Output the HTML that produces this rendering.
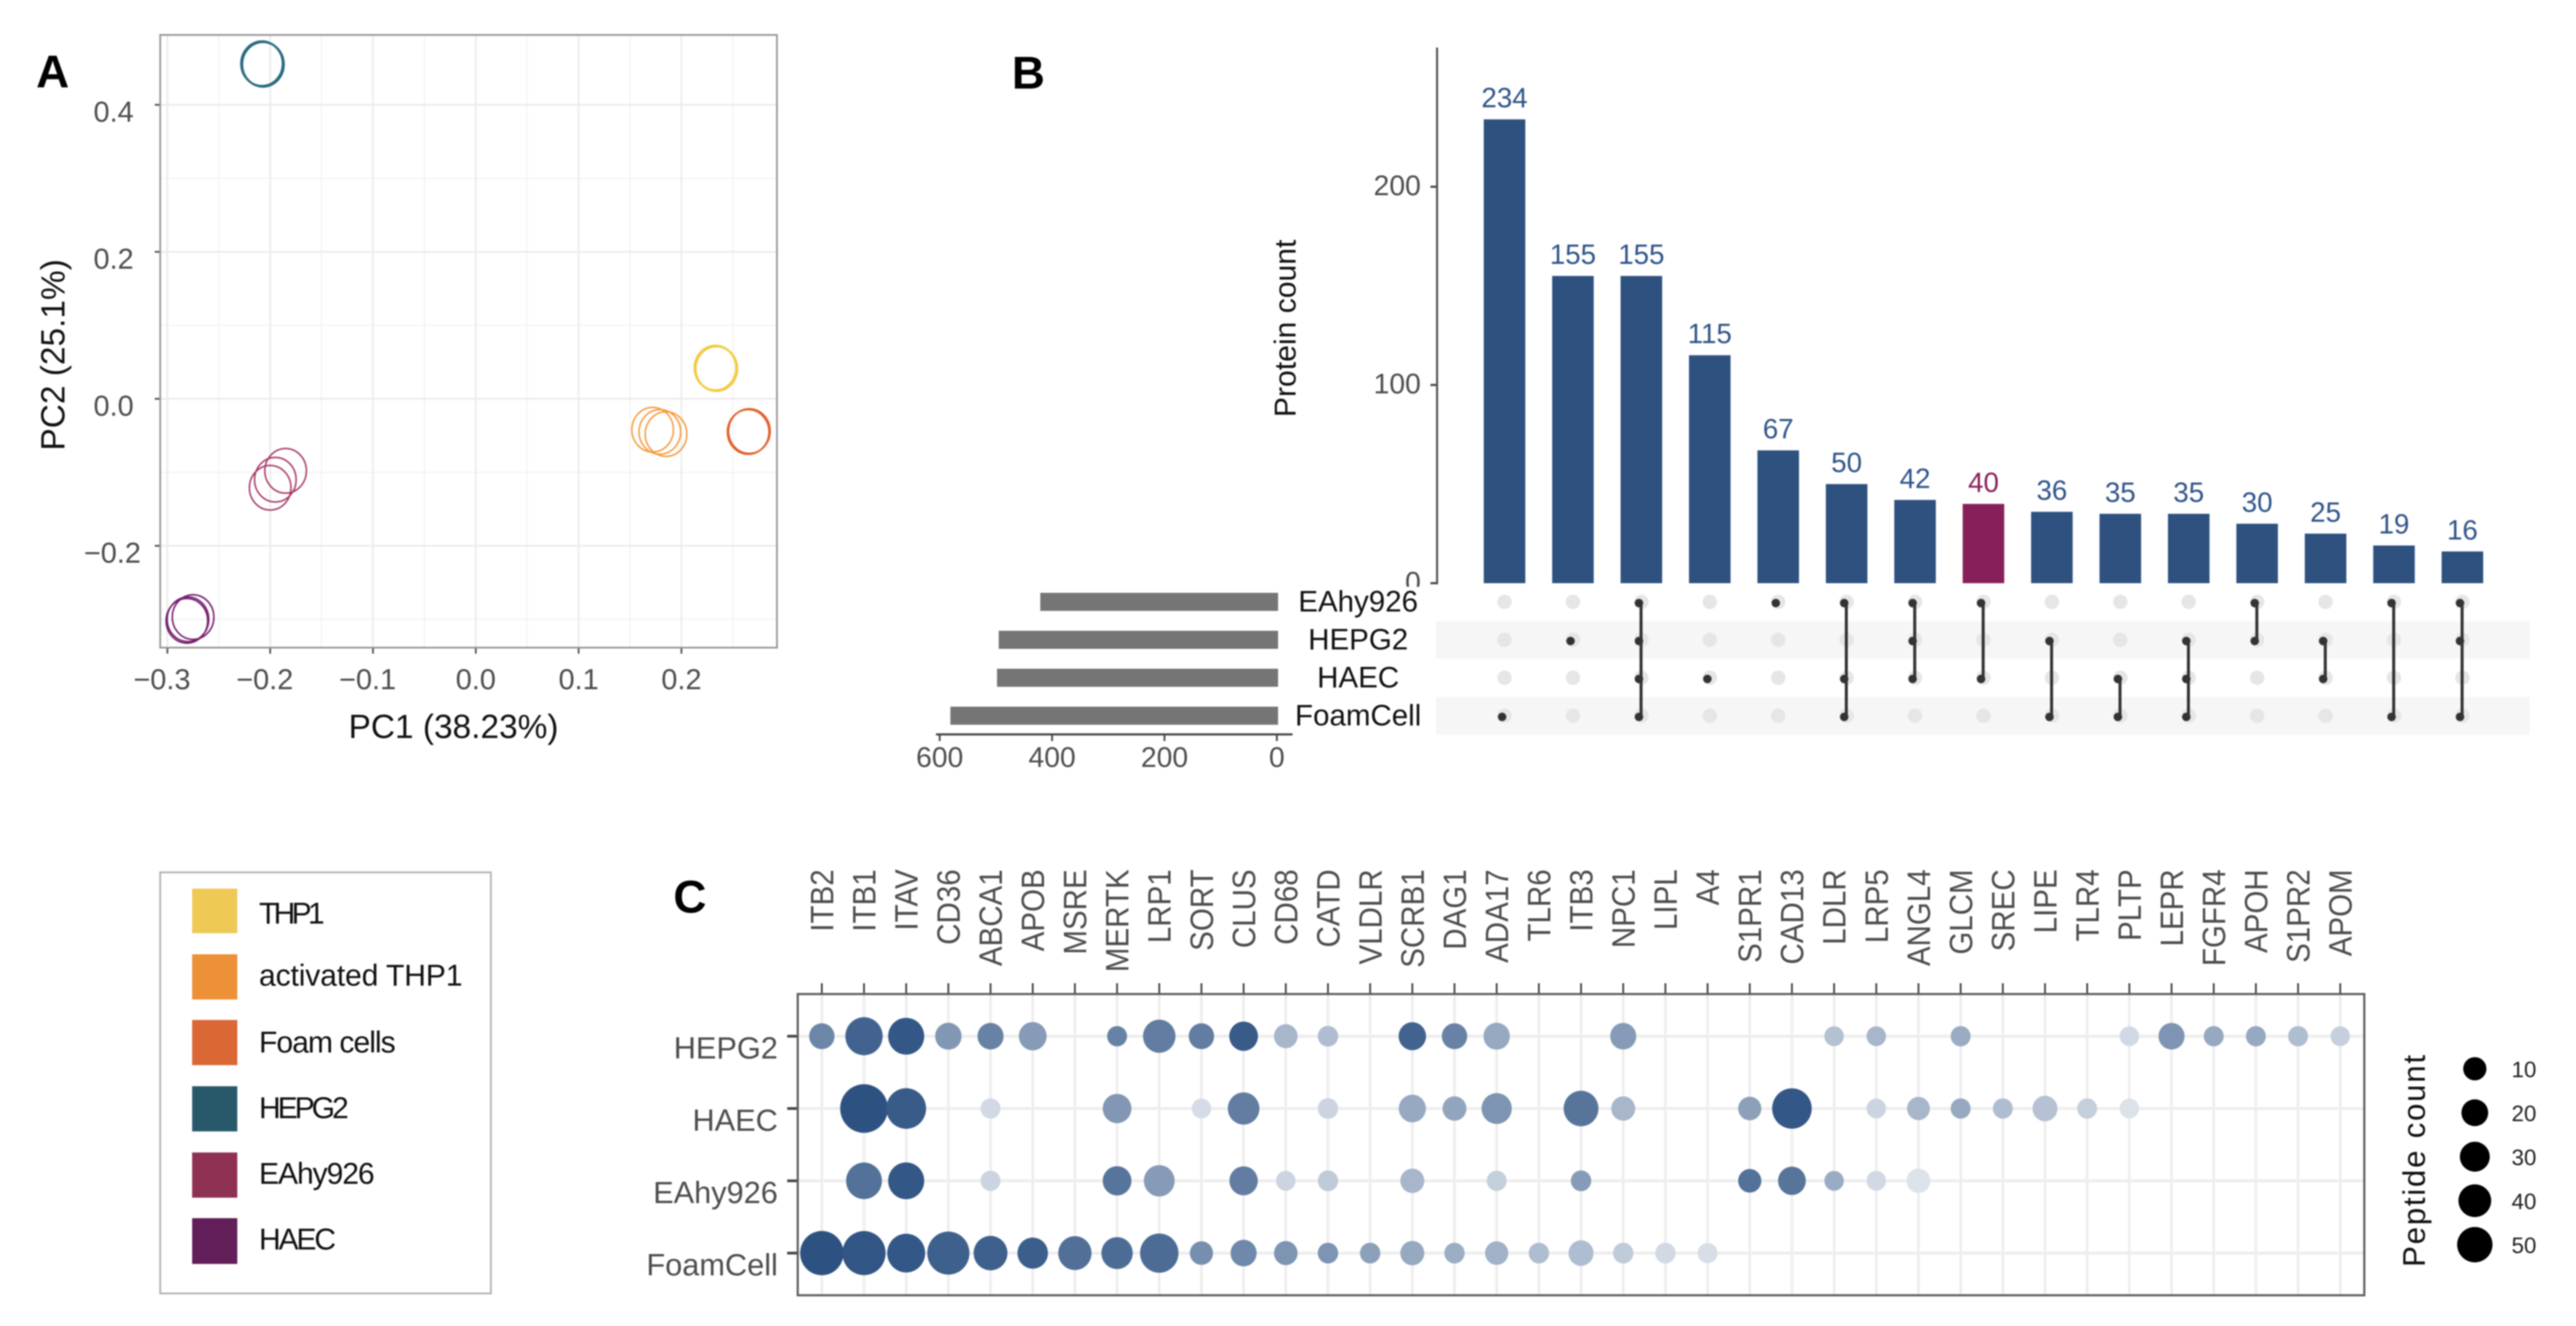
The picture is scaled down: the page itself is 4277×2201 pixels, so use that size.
<!DOCTYPE html>
<html lang="en">
<head>
<meta charset="utf-8">
<title>Panels A, B and C</title>
<style>
html,body{margin:0;padding:0;background:#fff;}
svg{display:block;font-family:"Liberation Sans",Arial,sans-serif;filter:blur(1px);}
</style>
</head>
<body>
<svg id="fig" xmlns="http://www.w3.org/2000/svg" width="4277" height="2201" viewBox="0 0 4277 2201">
  <rect x="0" y="0" width="4277" height="2201" fill="#fff"/>
  <g id="panelA"></g>
  <g id="panelB"></g>
  <g id="panelC"></g>

  <text x="60" y="145" font-size="76" font-weight="700" fill="#000">A</text>
  <text x="1680" y="147" font-size="76" font-weight="700" fill="#000">B</text>
  <text x="1118" y="1515" font-size="76" font-weight="700" fill="#000">C</text>

  <text x="753" y="1225" font-size="55.5" text-anchor="middle" fill="#111">PC1 (38.23%)</text>
  <text transform="translate(107,589) rotate(-90)" font-size="55.5" text-anchor="middle" fill="#111">PC2 (25.1%)</text>
  <text transform="translate(2151,545) rotate(-90)" font-size="50" text-anchor="middle" fill="#111">Protein count</text>
  <text transform="translate(4026,1927) rotate(-90)" font-size="52" text-anchor="middle" textLength="352" lengthAdjust="spacing" fill="#111">Peptide count</text>

  <g>
    <rect x="266" y="1448" width="549" height="699" fill="#fff" stroke="#b3b3b3" stroke-width="3"/>
    <rect x="319" y="1475" width="75" height="74" fill="#EEC955"/>
    <text x="430" y="1533" font-size="50" textLength="109" lengthAdjust="spacing" fill="#111">THP1</text>
    <rect x="319" y="1584" width="75" height="75" fill="#EC9137"/>
    <text x="430" y="1636" font-size="50" textLength="338" lengthAdjust="spacing" fill="#111">activated THP1</text>
    <rect x="319" y="1693" width="75" height="75" fill="#DB6735"/>
    <text x="430" y="1747" font-size="50" textLength="227" lengthAdjust="spacing" fill="#111">Foam cells</text>
    <rect x="319" y="1803" width="75" height="75" fill="#28596B"/>
    <text x="430" y="1856" font-size="50" textLength="149" lengthAdjust="spacing" fill="#111">HEPG2</text>
    <rect x="319" y="1913" width="75" height="75" fill="#8E3152"/>
    <text x="430" y="1965" font-size="50" textLength="192" lengthAdjust="spacing" fill="#111">EAhy926</text>
    <rect x="319" y="2022" width="75" height="76" fill="#631F5A"/>
    <text x="430" y="2074" font-size="50" textLength="128" lengthAdjust="spacing" fill="#111">HAEC</text>
  </g>
</svg>

<script>
// ---------- Panel A data ----------
const pcaGroups = ['HEPG2', 'THP1', 'activated-THP1', 'foam-cells', 'EAhy926', 'HAEC'];
const pc1HEPG2 = [-0.208, -0.207];
const pc2HEPG2 = [0.456, 0.455];
const pc1THP1 = [0.233, 0.234];
const pc2THP1 = [0.042, 0.041];
const pc1ActivatedTHP1 = [0.172, 0.179, 0.185];
const pc2ActivatedTHP1 = [-0.042, -0.045, -0.048];
const pc1FoamCells = [0.265, 0.266];
const pc2FoamCells = [-0.045, -0.044];
const pc1EAhy926 = [-0.185, -0.195, -0.200];
const pc2EAhy926 = [-0.098, -0.110, -0.121];
const pc1HAEC = [-0.275, -0.280, -0.281];
const pc2HAEC = [-0.297, -0.300, -0.302];
const pcaMajorX = [-0.3, -0.2, -0.1, 0, 0.1, 0.2];
const pcaMinorX = [-0.25, -0.15, -0.05, 0.05, 0.15, 0.25];
const pcaMajorY = [0.4, 0.2, 0, -0.2];
const pcaMinorY = [0.3, 0.1, -0.1, -0.3];
const pcaTickLabelsX = ['\u22120.3', '\u22120.2', '\u22120.1', '0.0', '0.1', '0.2'];
const pcaTickLabelsY = ['0.4', '0.2', '0.0', '\u22120.2'];

// ---------- Panel B data ----------
const intersectionCounts = [234, 155, 155, 115, 67, 50, 42, 40, 36, 35, 35, 30, 25, 19, 16];
const intersectionMembers = [[3], [1], [0, 1, 2, 3], [2], [0], [0, 2, 3], [0, 1, 2], [0, 2], [1, 3], [2, 3], [1, 2, 3], [0, 1], [1, 2], [0, 3], [0, 1, 3]];
const highlightedIntersections = [7];
const setNames = ['EAhy926', 'HEPG2', 'HAEC', 'FoamCell'];
const setSizes = [421, 495, 498, 581];
const upsetTicks = [0, 100, 200];
const setSizeTicks = [600, 400, 200, 0];

// ---------- Panel C data ----------
const genes = ['ITB2','ITB1','ITAV','CD36','ABCA1','APOB','MSRE','MERTK','LRP1','SORT','CLUS','CD68','CATD','VLDLR','SCRB1','DAG1','ADA17','TLR6','ITB3','NPC1','LIPL','A4','S1PR1','CAD13','LDLR','LRP5','ANGL4','GLCM','SREC','LIPE','TLR4','PLTP','LEPR','FGFR4','APOH','S1PR2','APOM'];
const dotRows = ['HEPG2', 'HAEC', 'EAhy926', 'FoamCell'];
const peptidesHEPG2 = [16,58,53,19,18,23,0,2,39,16,26,11,3,0,22,16,19,0,0,18,0,0,0,0,1,1,0,2,0,0,0,1,18,2,2,2,1];
const peptidesHAEC = [0,108,69,0,2,0,0,26,0,1,36,0,3,0,21,12,31,0,48,12,0,0,10,68,0,1,9,2,2,15,2,1,0,0,0,0,0];
const peptidesEAhy926 = [0,52,53,0,2,0,0,26,33,0,25,1,3,0,12,0,2,0,3,0,0,0,10,23,1,1,12,0,0,0,0,0,0,0,0,0,0];
const peptidesFoamCell = [86,85,61,80,44,32,42,35,63,10,18,11,3,3,12,3,10,3,15,3,3,2,0,0,0,0,0,0,0,0,0,0,0,0,0,0,0];
const intensityHEPG2 = [.7,.9,.97,.6,.72,.58,0,.72,.75,.75,.95,.42,.38,0,.9,.72,.5,0,0,.58,0,0,0,0,.36,.42,0,.48,0,0,0,.22,.62,.5,.5,.38,.27];
const intensityHAEC = [0,1,.95,0,.22,0,0,.6,0,.2,.75,0,.25,0,.5,.52,.62,0,.8,.42,0,0,.55,.97,0,.25,.42,.5,.38,.35,.28,.17,0,0,0,0,0];
const intensityEAhy926 = [0,.82,.97,0,.25,0,0,.8,.58,0,.75,.25,.3,0,.42,0,.28,0,.58,0,0,0,.82,.8,.48,.22,.16,0,0,0,0,0,0,0,0,0,0];
const intensityFoamCell = [1,.98,.97,.92,.92,.93,.83,.85,.85,.65,.68,.62,.62,.55,.5,.47,.45,.38,.38,.3,.22,.19,0,0,0,0,0,0,0,0,0,0,0,0,0,0,0];
const sizeLegendValues = [10, 20, 30, 40, 50];

const NS = 'http://www.w3.org/2000/svg';
function make(parent, tag, attrs, text) {
  const el = document.createElementNS(NS, tag);
  for (const k in attrs) el.setAttribute(k, attrs[k]);
  if (text !== undefined) el.textContent = text;
  parent.appendChild(el);
  return el;
}

// ========== PANEL A ==========
(function () {
  const root = document.getElementById('panelA');
  const L = 266, R = 1290, T = 58, B = 1075;
  const xA = v => 790 + 1707 * v;
  const yA = v => 662 - 1220 * v;

  pcaMinorX.forEach(v => {
    const el = make(root, 'line', {x1: xA(v), x2: xA(v), y1: T, y2: B, stroke: '#f3f3f3', 'stroke-width': 2});
    
    
  });
  pcaMinorY.forEach(v => {
    const el = make(root, 'line', {x1: L, x2: R, y1: yA(v), y2: yA(v), stroke: '#f3f3f3', 'stroke-width': 2});
    
    
  });
  pcaMajorX.forEach((v, i) => {
    const g = make(root, 'line', {x1: xA(v), x2: xA(v), y1: T, y2: B, stroke: '#ececec', 'stroke-width': 3});
    
    
    const t = make(root, 'line', {x1: xA(v), x2: xA(v), y1: B, y2: B + 10, stroke: '#555', 'stroke-width': 3});
    
    
    const lab = make(root, 'text', {x: xA(v) - (v < 0 ? 9 : 0), y: 1144, 'font-size': 48, 'text-anchor': 'middle', fill: '#4d4d4d'}, pcaTickLabelsX[i]);
    
    
  });
  pcaMajorY.forEach((v, i) => {
    const g = make(root, 'line', {x1: L, x2: R, y1: yA(v), y2: yA(v), stroke: '#ececec', 'stroke-width': 3});
    
    
    const t = make(root, 'line', {x1: L - 9, x2: L, y1: yA(v), y2: yA(v), stroke: '#555', 'stroke-width': 3});
    
    
    const lab = make(root, 'text', {x: v < 0 ? 234 : 222, y: yA(v) + 28, 'font-size': 48, 'text-anchor': 'end', fill: '#4d4d4d'}, pcaTickLabelsY[i]);
    
    
  });
  const frame = make(root, 'rect', {x: L, y: T, width: R - L, height: B - T, fill: 'none', stroke: '#999', 'stroke-width': 3});
  
  

  const groupX = [pc1HEPG2, pc1THP1, pc1ActivatedTHP1, pc1FoamCells, pc1EAhy926, pc1HAEC];
  const groupY = [pc2HEPG2, pc2THP1, pc2ActivatedTHP1, pc2FoamCells, pc2EAhy926, pc2HAEC];
  const groupColor = ['#2b6b80', '#f3cb45', '#f59a3a', '#e2602c', '#a8386a', '#762170'];
  const groupWidth = [3.5, 3.5, 2.5, 2.8, 2.5, 2.6];
  pcaGroups.forEach((name, g) => {
    groupX[g].forEach((v, i) => {
      const el = make(root, 'ellipse', {cx: xA(v), cy: yA(groupY[g][i]), rx: 34.5, ry: 37, fill: 'none', stroke: groupColor[g], 'stroke-width': groupWidth[g]});
      
      
    });
  });
})();

// ========== PANEL B ==========
(function () {
  const root = document.getElementById('panelB');
  const yB = v => 968 - 3.29 * v;
  const xBar = i => 2498 + 113.6 * i;
  const rowY = [999, 1062, 1125, 1188];
  const xSet = v => 2120 - 0.933 * v;

  // stripes
  [1, 3].forEach(r => {
    const s = make(root, 'rect', {x: 2384, y: rowY[r] - 31, width: 1816, height: 62, fill: '#f6f6f6'});
    
    
  });

  // y axis labels + ticks
  upsetTicks.forEach(v => {
    const lab = make(root, 'text', {x: 2359, y: yB(v) + 14, 'font-size': 47, 'text-anchor': 'end', fill: '#4d4d4d'}, String(v));
    
    
    const t = make(root, 'line', {x1: 2375, x2: 2386, y1: yB(v), y2: yB(v), stroke: '#444', 'stroke-width': 3.5});
    
    
  });
  const cover = make(root, 'rect', {x: 2300, y: 974, width: 84, height: 14, fill: '#fff'});
  
  
  const axis = make(root, 'line', {x1: 2386, x2: 2386, y1: 79, y2: 970, stroke: '#555', 'stroke-width': 3.5});
  
  

  // intersection bars
  intersectionCounts.forEach((v, i) => {
    const hi = highlightedIntersections.indexOf(i) >= 0;
    const bar = make(root, 'rect', {x: xBar(i) - 34.5, y: yB(v), width: 69, height: yB(0) - yB(v), fill: hi ? '#87205a' : '#2e5180'});
    
    
    const lab = make(root, 'text', {x: xBar(i), y: yB(v) - 20, 'font-size': 46, 'text-anchor': 'middle', fill: hi ? '#87205a' : '#2f5488'}, String(v));
    
    
  });

  // matrix
  intersectionMembers.forEach((members, i) => {
    rowY.forEach((y, r) => {
      const d = make(root, 'circle', {cx: xBar(i), cy: y, r: 12, fill: '#e6e6e6'});
      
      
    });
    if (members.length > 1) {
      const a = rowY[members[0]] + 2, b = rowY[members[members.length - 1]] + 2;
      const ln = make(root, 'line', {x1: xBar(i) - 0.5, x2: xBar(i) - 0.5, y1: a, y2: b, stroke: '#333', 'stroke-width': 5});
      
      
    }
    members.forEach(r => {
      const d = make(root, 'circle', {cx: xBar(i) - 4, cy: rowY[r] + 2, r: 7, fill: '#333'});
      
      
    });
  });

  // set size bars
  setNames.forEach((name, r) => {
    const bar = make(root, 'rect', {x: xSet(setSizes[r]), y: rowY[r] - 15, width: 2122 - xSet(setSizes[r]), height: 30, fill: '#757575'});
    
    
    const lab = make(root, 'text', {x: 2255, y: rowY[r] + 16, 'font-size': 49, 'text-anchor': 'middle', fill: '#111'}, name);
    
    
  });
  const setAxis = make(root, 'line', {x1: 1554, x2: 2146, y1: 1219, y2: 1219, stroke: '#444', 'stroke-width': 3.5});
  
  
  setSizeTicks.forEach(v => {
    const t = make(root, 'line', {x1: xSet(v), x2: xSet(v), y1: 1219, y2: 1230, stroke: '#444', 'stroke-width': 3});
    
    
    const lab = make(root, 'text', {x: xSet(v), y: 1273, 'font-size': 47, 'text-anchor': 'middle', fill: '#4d4d4d'}, String(v));
    
    
  });
})();

// ========== PANEL C ==========
(function () {
  const root = document.getElementById('panelC');
  const L = 1324.5, R = 3925.5, T = 1650, B = 2150;
  const xC = i => 1364.5 + 70.03 * i;
  const yC = r => 1720 + 120 * r;
  const radius = v => Math.sqrt(250 + 12.2 * v);
  const shade = a => 'rgb(' + [45, 82, 130].map(c => Math.round(255 - (255 - c) * a)).join(',') + ')';

  genes.forEach((g, i) => {
    const ln = make(root, 'line', {x1: xC(i), x2: xC(i), y1: T, y2: B, stroke: '#eeeeee', 'stroke-width': 4.5});
    
    
    const t = make(root, 'line', {x1: xC(i), x2: xC(i), y1: 1632, y2: T, stroke: '#444', 'stroke-width': 3});
    
    
    const lab = make(root, 'text', {transform: 'translate(' + (xC(i) + 19) + ',1443) rotate(-90) scale(1,1.1)', 'font-size': 49, 'text-anchor': 'end', fill: '#4d4d4d'}, g);
    
    
  });
  dotRows.forEach((name, r) => {
    const ln = make(root, 'line', {x1: L, x2: R, y1: yC(r), y2: yC(r), stroke: '#eeeeee', 'stroke-width': 5});
    
    
    const t = make(root, 'line', {x1: 1307, x2: L, y1: yC(r), y2: yC(r), stroke: '#444', 'stroke-width': 4.5});
    
    
    const lab = make(root, 'text', {x: 1291.5, y: yC(r) + 37, 'font-size': 51, 'text-anchor': 'end', fill: '#4d4d4d'}, name);
    
    
  });
  const frame = make(root, 'rect', {x: L, y: T, width: R - L, height: B - T, fill: 'none', stroke: '#5c5c5c', 'stroke-width': 3.5});
  
  

  const counts = [peptidesHEPG2, peptidesHAEC, peptidesEAhy926, peptidesFoamCell];
  const intens = [intensityHEPG2, intensityHAEC, intensityEAhy926, intensityFoamCell];
  counts.forEach((row, r) => {
    row.forEach((v, i) => {
      if (!v) return;
      const rad = radius(v);
      const d = make(root, 'ellipse', {cx: xC(i), cy: yC(r), rx: rad, ry: rad * 1.02, fill: shade(intens[r][i])});
      
      
    });
  });

  sizeLegendValues.forEach((v, i) => {
    const y = 1774 + 73 * i;
    const d = make(root, 'circle', {cx: 4109, cy: y, r: radius(v), fill: '#000'});
    
    
    const lab = make(root, 'text', {x: 4170, y: y + 14, 'font-size': 37, fill: '#222'}, String(v));
    
    
  });
})();
</script>
</body>
</html>
